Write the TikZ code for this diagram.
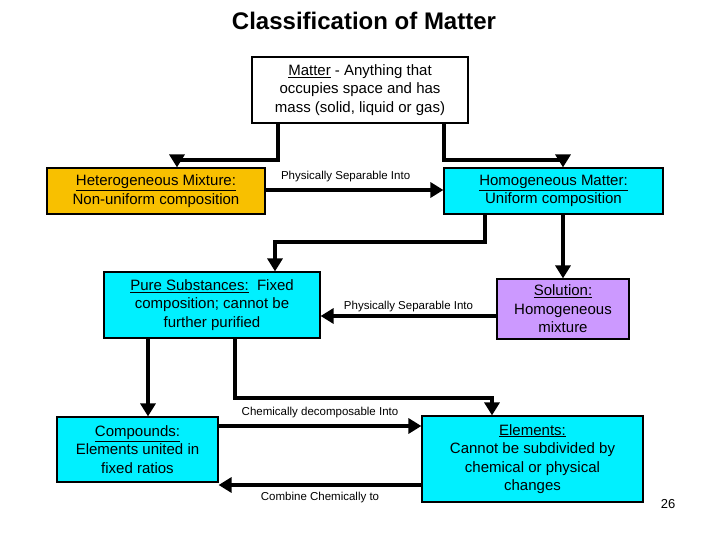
\documentclass[tikz,border=0pt]{standalone}
\usepackage{fontspec}
\setmainfont{Liberation Sans}
\usetikzlibrary{arrows.meta}
\definecolor{cy}{HTML}{00F0FF}
\definecolor{org}{HTML}{F8C000}
\definecolor{pur}{HTML}{CC99FF}
\begin{document}
\begin{tikzpicture}[x=1pt,y=-1pt,
  box/.style={draw=black,line width=1.2pt,align=center,inner sep=0pt,font=\fontsize{15}{18.5}\selectfont},
  arr/.style={line width=4pt,-{Triangle[length=13pt,width=15pt]}},
  lab/.style={font=\fontsize{11.5}{13}\selectfont}]
\useasboundingbox (0,0) rectangle (720,540);
\node[font=\bfseries\fontsize{24}{27}\selectfont] (title) at (364,21) {Classification of Matter};
\node[box,fill=white,minimum width=216pt,minimum height=66pt] (m) at (360,90) {\underline{Matter} - Anything that\\occupies space and has\\mass (solid, liquid or gas)};
\node[box,fill=org,minimum width=218pt,minimum height=46pt] (het) at (156,191) {\underline{Heterogeneous Mixture:}\\Non-uniform composition};
\node[box,fill=cy,minimum width=219pt,minimum height=46pt] (hom) at (553.5,191) {\underline{Homogeneous Matter:}\\Uniform composition};
\node[box,fill=cy,minimum width=216pt,minimum height=66pt] (pure) at (212,305) {\underline{Pure Substances:}\ \ Fixed\\composition; cannot be\\further purified};
\node[box,fill=pur,minimum width=132pt,minimum height=60pt] (sol) at (563,309) {\underline{Solution:}\\Homogeneous\\mixture};
\node[box,fill=cy,minimum width=161pt,minimum height=65pt] (comp) at (137.5,449.5) {\underline{Compounds:}\\Elements united in\\fixed ratios};
\node[box,fill=cy,minimum width=221pt,minimum height=86pt] (el) at (532.5,459) {\underline{Elements:}\\Cannot be subdivided by\\chemical or physical\\changes};
\node[font=\fontsize{13}{15}\selectfont] (pg) at (668,504) {26};
\coordinate (c1) at (278,160);
\coordinate (c2) at (444,160);
\coordinate (c3) at (485,242);
\coordinate (c4) at (235,398);
\draw[arr] (m.south -| c1) |- (c1) -| (het.north -| 177,0);
\draw[arr] (m.south -| c2) |- (c2) -| (hom.north -| 563,0);
\draw[arr] (het.east |- 0,190) -- node[lab,above=3pt,pos=0.45]{Physically Separable Into} (hom.west |- 0,190);
\draw[arr] (hom.south -| c3) |- (c3) -| (pure.north -| 275,0);
\draw[arr] (hom.south -| 563,0) -- (sol.north -| 563,0);
\draw[arr] (sol.west |- 0,316) -- node[lab,above=-1pt]{Physically Separable Into} (pure.east |- 0,316);
\draw[arr] (pure.south -| 148,0) -- (comp.north -| 148,0);
\draw[arr] (pure.south -| c4) |- (c4) -| (el.north -| 492,0);
\draw[arr] (comp.east |- 0,426) -- node[lab,above=3pt]{Chemically decomposable Into} (el.west |- 0,426);
\draw[arr] (el.west |- 0,485) -- node[lab,below=2pt]{Combine Chemically to} (comp.east |- 0,485);
\end{tikzpicture}
\end{document}
